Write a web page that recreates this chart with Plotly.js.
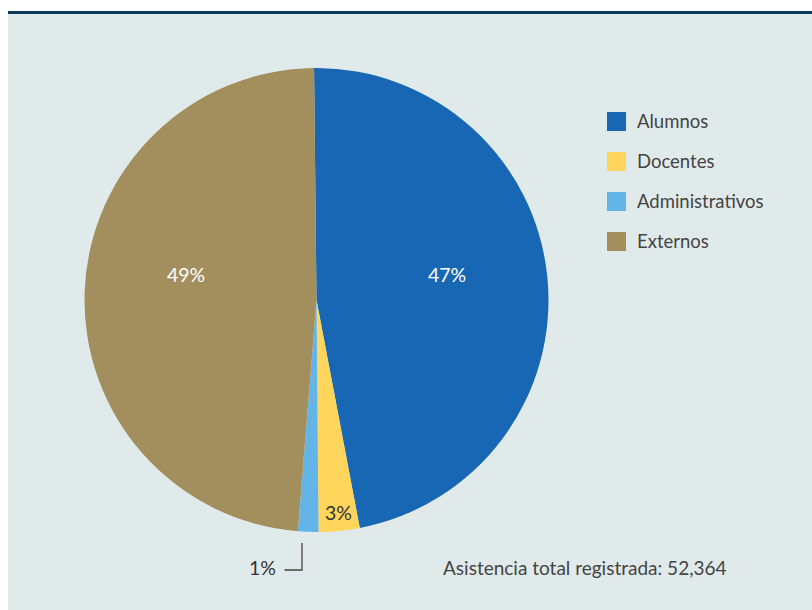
<!DOCTYPE html>
<html><head><meta charset="utf-8">
<script src="https://cdn.plot.ly/plotly-3.0.1.min.js"></script>
<style>html,body{margin:0;padding:0;background:#fff;}#chart{width:812px;height:610px;}</style>
</head><body><div id="chart"></div>
<script>
// ---- data ----
const categories = ['Alumnos', 'Docentes', 'Administrativos', 'Externos'];
const values = [24705, 1492, 744, 25423];
const colors = ['#1767b4', '#ffd55b', '#62b5e6', '#a38f5e'];
const totalText = 'Asistencia total registrada: ';

// ---- helpers (pixel -> paper) ----
const W = 812, H = 610;
const px = x => x / W;
const py = y => 1 - y / H;
const FONT = 'Lato, "Open Sans", sans-serif';

const total = values.reduce((a, b) => a + b, 0);
const pct = values.map(v => Math.round(v / total * 100) + '%');

// label placement (styling)
const labelPos = [[447, 274], [338, 512], [262, 567], [186, 274]];
const labelColor = ['#ffffff', '#333333', '#333333', '#ffffff'];

const annotations = [];
categories.forEach((c, i) => {
  annotations.push({
    xref: 'paper', yref: 'paper', x: px(labelPos[i][0]), y: py(labelPos[i][1]),
    text: pct[i], showarrow: false, xanchor: 'center', yanchor: 'middle',
    font: {family: FONT, size: 19.5, color: labelColor[i]}
  });
});

// frame + custom legend
const shapes = [
  {type: 'rect', xref: 'paper', yref: 'paper', x0: 0, x1: 1, y0: py(11), y1: 1, fillcolor: '#ffffff', line: {width: 0}, layer: 'above'},
  {type: 'rect', xref: 'paper', yref: 'paper', x0: 0, x1: px(8), y0: 0, y1: 1, fillcolor: '#ffffff', line: {width: 0}, layer: 'above'},
  {type: 'rect', xref: 'paper', yref: 'paper', x0: px(8), x1: 1, y0: py(14), y1: py(11), fillcolor: '#0e3a5c', line: {width: 0}, layer: 'above'},
  // leader line for small slice label
  {type: 'path', xref: 'paper', yref: 'paper',
   path: `M ${px(302)} ${py(543)} L ${px(302)} ${py(570)} L ${px(284.5)} ${py(570)}`,
   line: {color: '#444444', width: 1.3}, layer: 'above'}
];
categories.forEach((c, i) => {
  const cy = 121.5 + i * 40;
  shapes.push({type: 'rect', xref: 'paper', yref: 'paper',
    x0: px(607), x1: px(626), y0: py(cy + 9.5), y1: py(cy - 9.5),
    fillcolor: colors[i], line: {width: 0}, layer: 'above'});
  annotations.push({xref: 'paper', yref: 'paper', x: px(635), y: py(cy - 0.5),
    text: c, showarrow: false, xanchor: 'left', yanchor: 'middle',
    font: {family: FONT, size: 18.5, color: '#444444'}});
});

annotations.push({xref: 'paper', yref: 'paper', x: px(441), y: py(567),
  text: totalText + total.toLocaleString('en-US'), showarrow: false,
  xanchor: 'left', yanchor: 'middle',
  font: {family: FONT, size: 19, color: '#444444'}});

const trace = {
  type: 'pie',
  labels: categories,
  values: values,
  sort: false,
  direction: 'clockwise',
  rotation: -0.6,
  marker: {colors: colors, line: {width: 0}},
  textinfo: 'none',
  hoverinfo: 'skip',
  showlegend: false,
  domain: {x: [px(84.5), px(548.5)], y: [py(532), py(68)]}
};

const layout = {
  width: W, height: H,
  margin: {l: 0, r: 0, t: 0, b: 0},
  paper_bgcolor: '#e0eaea',
  showlegend: false,
  shapes: shapes,
  annotations: annotations,
  font: {family: FONT}
};

Plotly.newPlot('chart', [trace], layout, {displayModeBar: false, staticPlot: true});
</script></body></html>
